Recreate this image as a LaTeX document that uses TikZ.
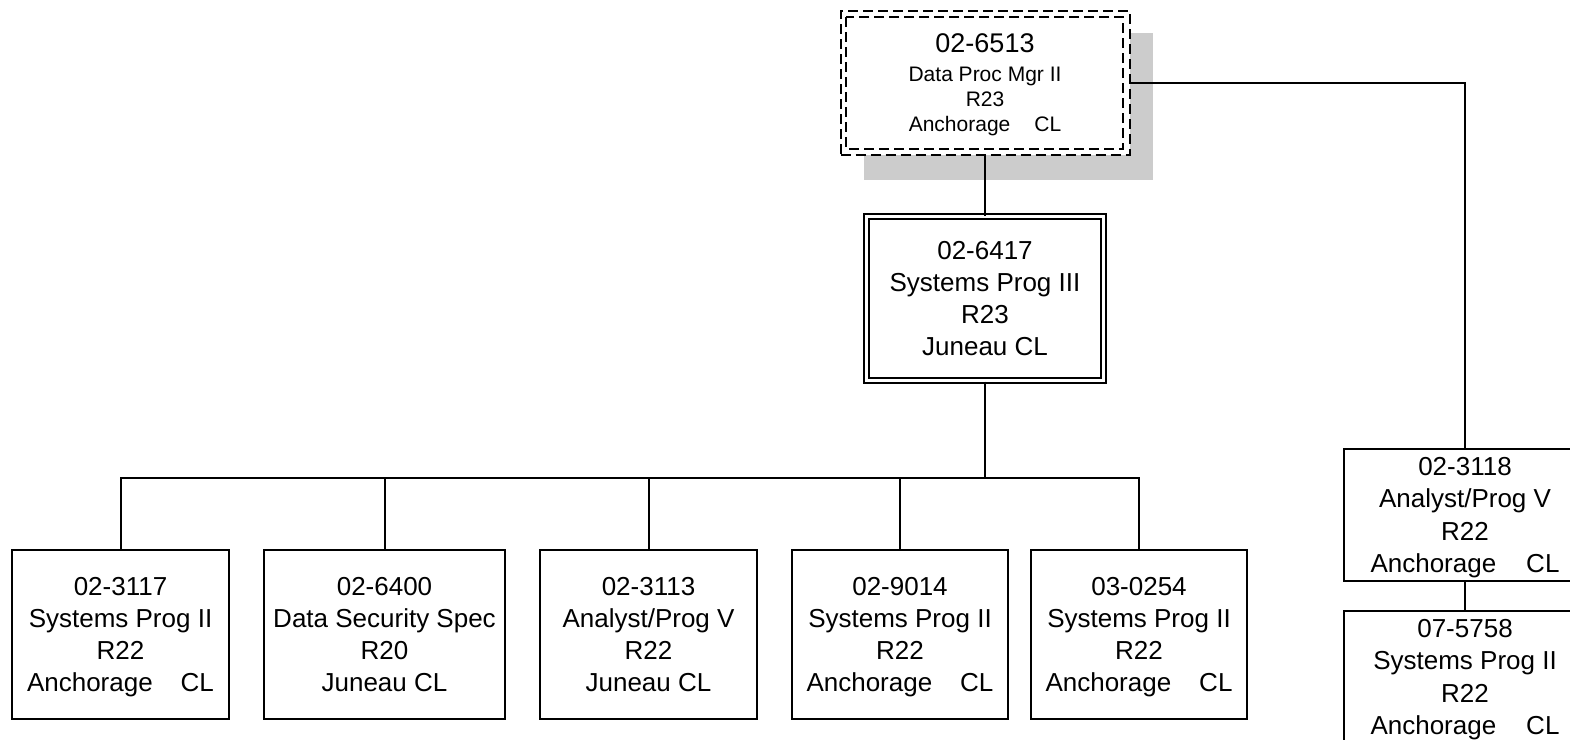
\documentclass[tikz,border=0pt]{standalone}
\usepackage{fontspec}
\setmainfont{Liberation Sans}
\begin{document}
\begin{tikzpicture}[x=1pt,y=-1pt,
  box/.style={draw, line width=2pt, fill=white, inner sep=0pt, align=center,
    font=\fontsize{26}{32.3}\selectfont, minimum height=169pt},
  link/.style={line width=2pt},
  dashbox/.style={draw, line width=2pt, dash pattern=on 10pt off 5pt}
]
\useasboundingbox (0,0) rectangle (1570,739);
% shadow of top box
\fill[gray!40] (864,33) rectangle (1153,180);
% top box
\node[dashbox, fill=white, inner sep=0pt, align=center, minimum width=289pt, minimum height=144pt,
  font=\fontsize{21}{25}\selectfont] (top) at (985,83)
  {{\fontsize{27}{27}\selectfont 02-6513}\\[4pt] Data Proc Mgr II\\ R23\\ \smash{Anchorage}\hspace{24pt}CL};
\draw[dashbox] (846,17) rectangle (1123,149);
% middle box
\node[box, double, double distance=3pt, minimum width=237pt, minimum height=164pt] (mid) at (985,298.5)
  {02-6417\\ Systems Prog III\\ R23\\ Juneau CL};
% bottom row
\node[box, minimum width=217pt] (b1) at (120.5,634.5) {02-3117\\ Systems Prog II\\ R22\\ \smash{Anchorage}\hspace{28pt}CL};
\node[box, minimum width=241pt] (b2) at (384.5,634.5) {02-6400\\ Data Security Spec\\ R20\\ Juneau CL};
\node[box, minimum width=217pt] (b3) at (648.5,634.5) {02-3113\\ Analyst/Prog V\\ R22\\ Juneau CL};
\node[box, minimum width=216pt] (b4) at (900,634.5) {02-9014\\ Systems Prog II\\ R22\\ \smash{Anchorage}\hspace{28pt}CL};
\node[box, minimum width=216pt] (b5) at (1139,634.5) {03-0254\\ Systems Prog II\\ R22\\ \smash{Anchorage}\hspace{28pt}CL};
% right column
\node[box, minimum width=242pt, minimum height=132pt] (r1) at (1465,515) {02-3118\\ Analyst/Prog V\\ R22\\ \smash{Anchorage}\hspace{30pt}CL};
\node[box, minimum width=242pt, minimum height=132pt] (r2) at (1465,677) {07-5758\\ Systems Prog II\\ R22\\ \smash{Anchorage}\hspace{30pt}CL};
% connectors
\coordinate (bus) at (985,478);
\draw[link] (top.south) -- (mid.north);
\draw[link] (mid.south) -- (bus);
\draw[link] (b1.north) -- (b1.north |- bus) -- (b5.north |- bus) -- (b5.north);
\draw[link] (b2.north) -- (b2.north |- bus);
\draw[link] (b3.north) -- (b3.north |- bus);
\draw[link] (b4.north) -- (b4.north |- bus);
\draw[link] (top.east) -| (r1.north);
\draw[link] (r1.south) -- (r2.north);
\end{tikzpicture}
\end{document}
